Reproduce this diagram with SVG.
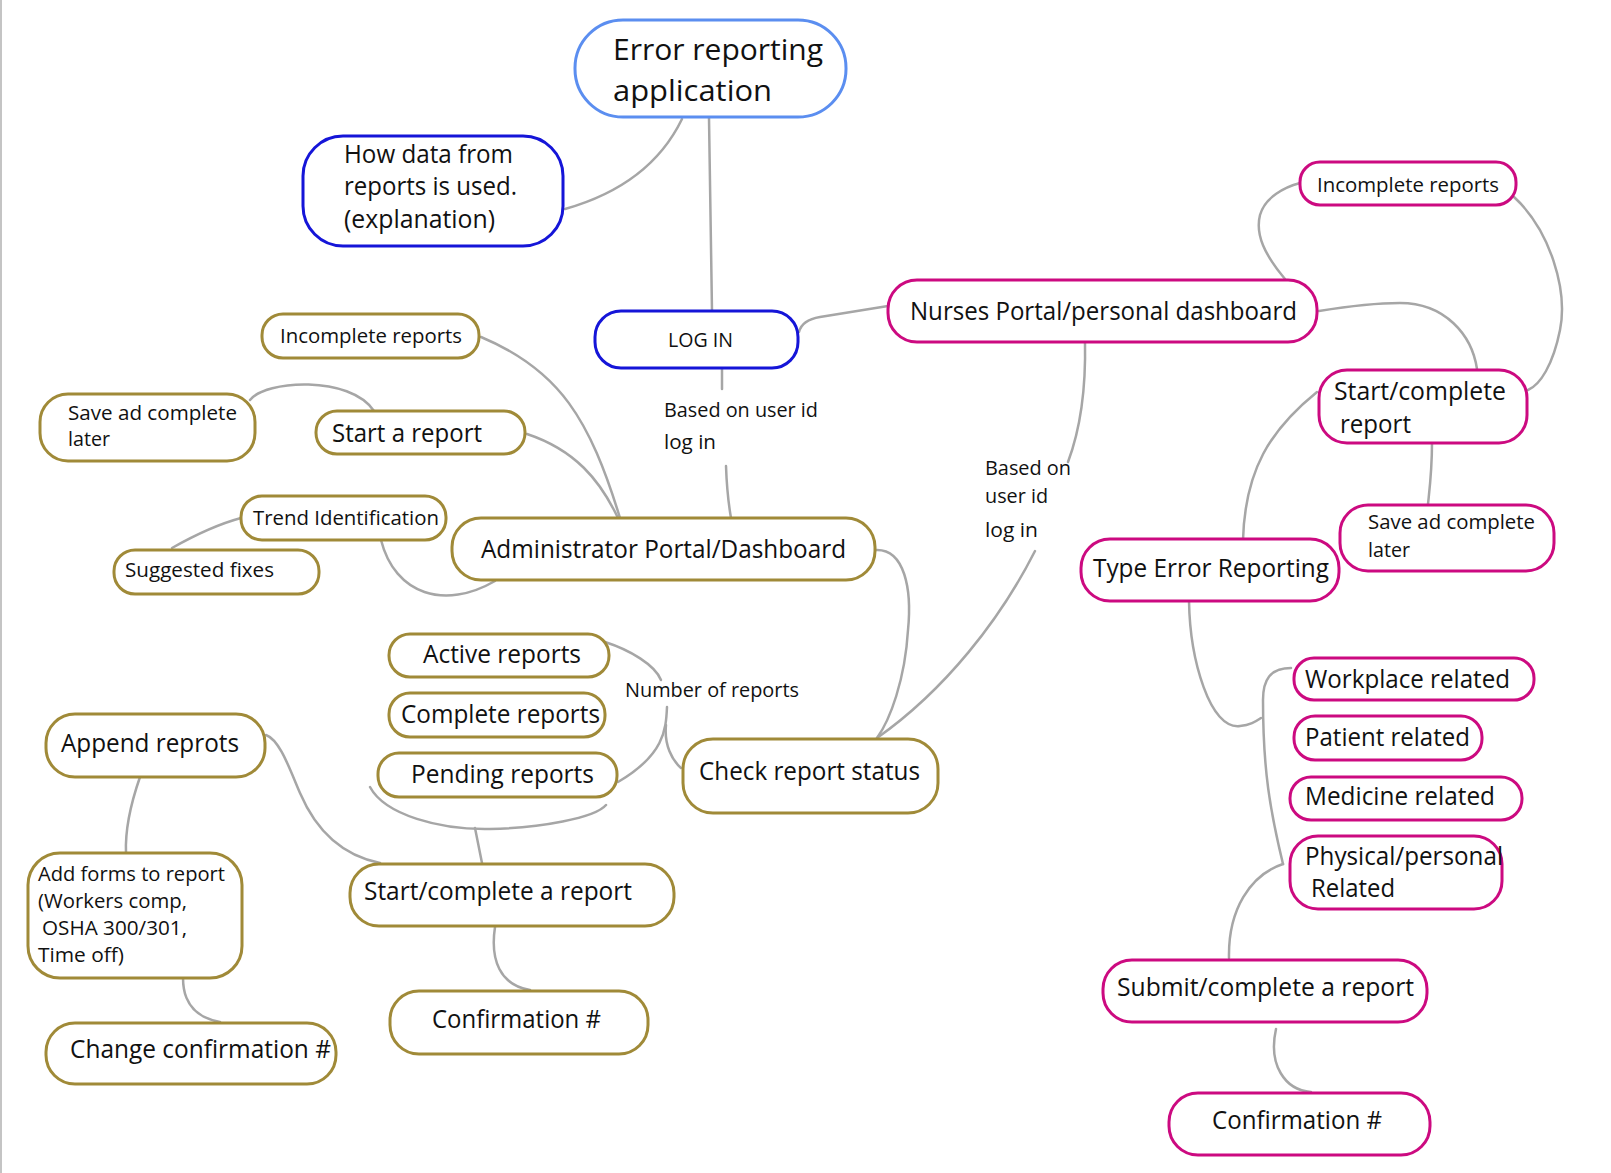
<svg xmlns="http://www.w3.org/2000/svg" width="1611" height="1173" viewBox="0 0 1611 1173">
<style>
  .n { fill: #ffffff; stroke-width: 3; }
  .gold { stroke: #a08a38; }
  .pink { stroke: #cc0a80; }
  .blue { stroke: #1515d8; }
  .lblue { stroke: #5b8ef0; }
  text { font-family: "Open Sans", "Noto Sans", "Liberation Sans", sans-serif; fill: #111111; }
  .xl { font-size: 30px; }
  .lg { font-size: 25px; }
  .sm { font-size: 20.5px; }
  .lb { font-size: 20px; }
  .c { fill: none; stroke: #a6a6a6; stroke-width: 2.5; stroke-linecap: round; }
</style>
<rect x="0" y="0" width="1611" height="1173" fill="#ffffff"/>
<line x1="1" y1="0" x2="1" y2="1173" stroke="#b0b0b0" stroke-width="1.5"/>

<g id="connectors">
  <path class="c" d="M682,119 Q650,185 565,209"/>
  <path class="c" d="M709,118 L712,311"/>
  <path class="c" d="M799,332 Q802,320 820,317 L888,306"/>
  <path class="c" d="M722,368 L722,389"/>
  <path class="c" d="M726,466 Q727,495 731,518"/>
  <path class="c" d="M481,337 C560,370 590,420 620,518"/>
  <path class="c" d="M527,434 C575,450 600,480 618,518"/>
  <path class="c" d="M250,400 C265,380 350,375 374,411"/>
  <path class="c" d="M241,518 C215,525 195,535 172,548"/>
  <path class="c" d="M381,540 C395,595 445,610 495,581"/>
  <path class="c" d="M875,550 C905,548 912,590 908,630 C905,680 890,720 877,738"/>
  <path class="c" d="M1085,342 C1086,390 1080,430 1068,462"/>
  <path class="c" d="M1035,551 C1000,620 945,690 877,738"/>
  <path class="c" d="M605,642 C630,650 655,665 661,680"/>
  <path class="c" d="M667,707 C666,730 664,755 618,782"/>
  <path class="c" d="M666,725 C664,745 672,760 681,768"/>
  <path class="c" d="M370,787 C385,815 440,830 490,829 C540,828 595,818 606,805"/>
  <path class="c" d="M475,828 L482,863"/>
  <path class="c" d="M266,735 C280,740 290,770 300,793 C315,828 340,855 380,863"/>
  <path class="c" d="M140,777 C132,800 125,830 126,853"/>
  <path class="c" d="M185,959 C180,985 182,1015 220,1022"/>
  <path class="c" d="M495,927 C490,960 500,985 530,990"/>
  <path class="c" d="M1285,279 C1265,255 1255,235 1260,215 C1265,197 1285,187 1300,183"/>
  <path class="c" d="M1514,197 C1550,230 1568,290 1560,330 C1553,365 1540,385 1528,390"/>
  <path class="c" d="M1319,311 C1350,306 1380,303 1400,303 C1445,303 1472,335 1477,369"/>
  <path class="c" d="M1317,392 C1270,430 1245,470 1243,540"/>
  <path class="c" d="M1432,443 C1432,470 1430,485 1428,504"/>
  <path class="c" d="M1189,601 C1190,660 1210,730 1240,726 C1250,725 1255,722 1261,718"/>
  <path class="c" d="M1291,668 C1270,668 1263,680 1263,700 C1263,770 1270,810 1283,864"/>
  <path class="c" d="M1283,864 C1250,875 1228,910 1229,958"/>
  <path class="c" d="M1276,1029 C1268,1065 1285,1090 1311,1092"/>
</g>

<g id="error-reporting-application">
  <rect class="n lblue" x="575" y="20" width="271" height="97" rx="48"/>
  <text class="xl" x="613" y="60" textLength="210" lengthAdjust="spacingAndGlyphs">Error reporting</text>
  <text class="xl" x="613" y="101" textLength="159" lengthAdjust="spacingAndGlyphs">application</text>
</g>
<g id="how-data">
  <rect class="n blue" x="303" y="136" width="260" height="110" rx="40"/>
  <text class="lg" x="344" y="163" textLength="169" lengthAdjust="spacingAndGlyphs">How data from</text>
  <text class="lg" x="344" y="195" textLength="173" lengthAdjust="spacingAndGlyphs">reports is used.</text>
  <text class="lg" x="344" y="228" textLength="151" lengthAdjust="spacingAndGlyphs">(explanation)</text>
</g>
<g id="log-in">
  <rect class="n blue" x="595" y="311" width="203" height="57" rx="26"/>
  <text class="sm" x="668" y="347" textLength="65" lengthAdjust="spacingAndGlyphs">LOG IN</text>
</g>
<g id="label-login-admin">
  <text class="lb" x="664" y="417" textLength="154" lengthAdjust="spacingAndGlyphs">Based on user id</text>
  <text class="lb" x="664" y="449" textLength="52" lengthAdjust="spacingAndGlyphs">log in</text>
</g>
<g id="nurses-portal">
  <rect class="n pink" x="888" y="280" width="429" height="62" rx="29"/>
  <text class="lg" x="910" y="320" textLength="387" lengthAdjust="spacingAndGlyphs">Nurses Portal/personal dashboard</text>
</g>
<g id="nurse-incomplete">
  <rect class="n pink" x="1300" y="162" width="216" height="43" rx="20"/>
  <text class="sm" x="1317" y="192" textLength="182" lengthAdjust="spacingAndGlyphs">Incomplete reports</text>
</g>
<g id="nurse-start-complete">
  <rect class="n pink" x="1319" y="370" width="208" height="73" rx="28"/>
  <text class="lg" x="1334" y="400" textLength="172" lengthAdjust="spacingAndGlyphs">Start/complete</text>
  <text class="lg" x="1340" y="433" textLength="71" lengthAdjust="spacingAndGlyphs">report</text>
</g>
<g id="nurse-save">
  <rect class="n pink" x="1340" y="505" width="214" height="66" rx="28"/>
  <text class="sm" x="1368" y="529" textLength="167" lengthAdjust="spacingAndGlyphs">Save ad complete</text>
  <text class="sm" x="1368" y="557" textLength="42" lengthAdjust="spacingAndGlyphs">later</text>
</g>
<g id="type-error">
  <rect class="n pink" x="1081" y="539" width="258" height="62" rx="29"/>
  <text class="lg" x="1093" y="577" textLength="236" lengthAdjust="spacingAndGlyphs">Type Error Reporting</text>
</g>
<g id="label-nurse-check">
  <text class="lb" x="985" y="475" textLength="86" lengthAdjust="spacingAndGlyphs">Based on</text>
  <text class="lb" x="985" y="503" textLength="63" lengthAdjust="spacingAndGlyphs">user id</text>
  <text class="lb" x="985" y="537" textLength="53" lengthAdjust="spacingAndGlyphs">log in</text>
</g>
<g id="workplace">
  <rect class="n pink" x="1294" y="658" width="240" height="42" rx="20"/>
  <text class="lg" x="1305" y="688" textLength="205" lengthAdjust="spacingAndGlyphs">Workplace related</text>
</g>
<g id="patient">
  <rect class="n pink" x="1294" y="716" width="188" height="44" rx="21"/>
  <text class="lg" x="1305" y="746" textLength="165" lengthAdjust="spacingAndGlyphs">Patient related</text>
</g>
<g id="medicine">
  <rect class="n pink" x="1290" y="777" width="232" height="43" rx="21"/>
  <text class="lg" x="1305" y="805" textLength="190" lengthAdjust="spacingAndGlyphs">Medicine related</text>
</g>
<g id="physical">
  <rect class="n pink" x="1290" y="836" width="212" height="73" rx="28"/>
  <text class="lg" x="1305" y="865" textLength="198" lengthAdjust="spacingAndGlyphs">Physical/personal</text>
  <text class="lg" x="1311" y="897" textLength="84" lengthAdjust="spacingAndGlyphs">Related</text>
</g>
<g id="submit">
  <rect class="n pink" x="1103" y="960" width="324" height="62" rx="29"/>
  <text class="lg" x="1117" y="996" textLength="297" lengthAdjust="spacingAndGlyphs">Submit/complete a report</text>
</g>
<g id="nurse-confirmation">
  <rect class="n pink" x="1169" y="1093" width="261" height="62" rx="29"/>
  <text class="lg" x="1212" y="1129" textLength="170" lengthAdjust="spacingAndGlyphs">Confirmation #</text>
</g>

<g id="admin-portal">
  <rect class="n gold" x="452" y="518" width="423" height="62" rx="29"/>
  <text class="lg" x="481" y="558" textLength="365" lengthAdjust="spacingAndGlyphs">Administrator Portal/Dashboard</text>
</g>
<g id="admin-incomplete">
  <rect class="n gold" x="262" y="314" width="217" height="44" rx="21"/>
  <text class="sm" x="280" y="343" textLength="182" lengthAdjust="spacingAndGlyphs">Incomplete reports</text>
</g>
<g id="admin-save">
  <rect class="n gold" x="40" y="394" width="215" height="67" rx="28"/>
  <text class="sm" x="68" y="420" textLength="169" lengthAdjust="spacingAndGlyphs">Save ad complete</text>
  <text class="sm" x="68" y="446" textLength="42" lengthAdjust="spacingAndGlyphs">later</text>
</g>
<g id="start-a-report">
  <rect class="n gold" x="316" y="411" width="209" height="43" rx="21"/>
  <text class="lg" x="332" y="442" textLength="150" lengthAdjust="spacingAndGlyphs">Start a report</text>
</g>
<g id="trend">
  <rect class="n gold" x="241" y="496" width="205" height="44" rx="21"/>
  <text class="sm" x="253" y="525" textLength="186" lengthAdjust="spacingAndGlyphs">Trend Identification</text>
</g>
<g id="suggested">
  <rect class="n gold" x="114" y="550" width="205" height="44" rx="21"/>
  <text class="sm" x="125" y="577" textLength="149" lengthAdjust="spacingAndGlyphs">Suggested fixes</text>
</g>
<g id="active">
  <rect class="n gold" x="389" y="634" width="220" height="43" rx="21"/>
  <text class="lg" x="423" y="663" textLength="158" lengthAdjust="spacingAndGlyphs">Active reports</text>
</g>
<g id="complete">
  <rect class="n gold" x="389" y="693" width="216" height="44" rx="21"/>
  <text class="lg" x="401" y="723" textLength="199" lengthAdjust="spacingAndGlyphs">Complete reports</text>
</g>
<g id="pending">
  <rect class="n gold" x="378" y="753" width="239" height="44" rx="21"/>
  <text class="lg" x="411" y="783" textLength="183" lengthAdjust="spacingAndGlyphs">Pending reports</text>
</g>
<g id="label-number">
  <text class="lb" x="625" y="697" textLength="174" lengthAdjust="spacingAndGlyphs">Number of reports</text>
</g>
<g id="check-status">
  <rect class="n gold" x="683" y="739" width="255" height="74" rx="30"/>
  <text class="lg" x="699" y="780" textLength="221" lengthAdjust="spacingAndGlyphs">Check report status</text>
</g>
<g id="append">
  <rect class="n gold" x="46" y="714" width="219" height="63" rx="29"/>
  <text class="lg" x="61" y="752" textLength="178" lengthAdjust="spacingAndGlyphs">Append reprots</text>
</g>
<g id="add-forms">
  <rect class="n gold" x="28" y="853" width="214" height="125" rx="32"/>
  <text class="sm" x="38" y="881" textLength="187" lengthAdjust="spacingAndGlyphs">Add forms to report</text>
  <text class="sm" x="38" y="908" textLength="149" lengthAdjust="spacingAndGlyphs">(Workers comp,</text>
  <text class="sm" x="42" y="935" textLength="145" lengthAdjust="spacingAndGlyphs">OSHA 300/301,</text>
  <text class="sm" x="38" y="962" textLength="86" lengthAdjust="spacingAndGlyphs">Time off)</text>
</g>
<g id="admin-start-complete">
  <rect class="n gold" x="350" y="864" width="324" height="62" rx="29"/>
  <text class="lg" x="364" y="900" textLength="268" lengthAdjust="spacingAndGlyphs">Start/complete a report</text>
</g>
<g id="admin-confirmation">
  <rect class="n gold" x="390" y="991" width="258" height="63" rx="29"/>
  <text class="lg" x="432" y="1028" textLength="169" lengthAdjust="spacingAndGlyphs">Confirmation #</text>
</g>
<g id="change-confirmation">
  <rect class="n gold" x="46" y="1023" width="290" height="61" rx="29"/>
  <text class="lg" x="70" y="1058" textLength="261" lengthAdjust="spacingAndGlyphs">Change confirmation #</text>
</g>
</svg>
